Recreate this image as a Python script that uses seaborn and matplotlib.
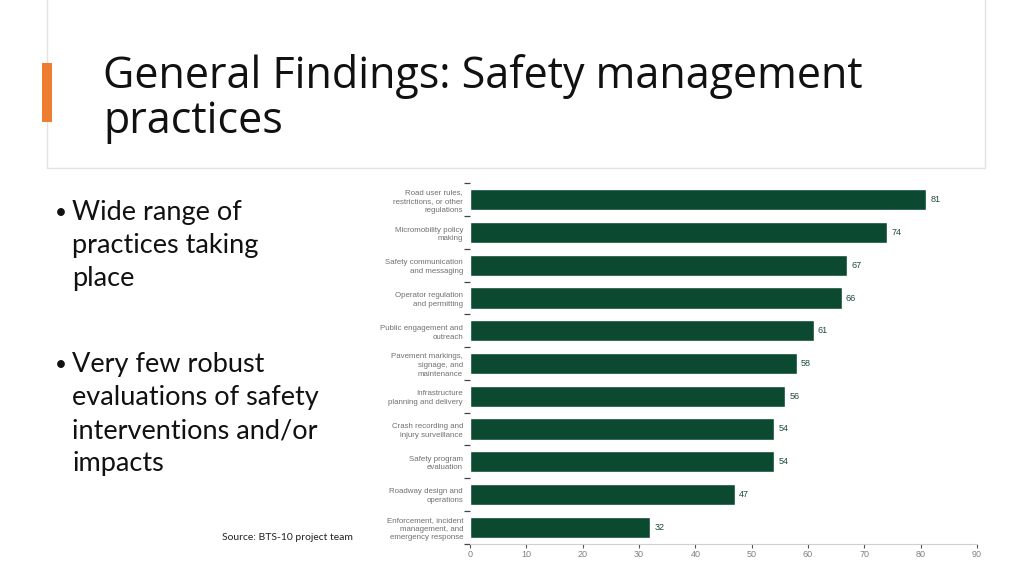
import matplotlib
matplotlib.use("Agg")
import matplotlib.pyplot as plt
import matplotlib.patches as mpatches
import seaborn as sns
import pandas as pd
import numpy as np

# data
practices = [
    "Road user rules,\nrestrictions, or other\nregulations",
    "Micromobility policy\nmaking",
    "Safety communication\nand messaging",
    "Operator regulation\nand permitting",
    "Public engagement and\noutreach",
    "Pavement markings,\nsignage, and\nmaintenance",
    "Infrastructure\nplanning and delivery",
    "Crash recording and\ninjury surveillance",
    "Safety program\nevaluation",
    "Roadway design and\noperations",
    "Enforcement, incident\nmanagement, and\nemergency response",
]
counts = [81, 74, 67, 66, 61, 58, 56, 54, 54, 47, 32]
x_ticks = [0, 10, 20, 30, 40, 50, 60, 70, 80, 90]

bullet_1 = "Wide range of\npractices taking\nplace"
bullet_2 = "Very few robust\nevaluations of safety\ninterventions and/or\nimpacts"
title = "General Findings: Safety management\npractices"
source = "Source: BTS-10 project team"

GREEN = "#0b4a30"
ORANGE = "#ed7d31"

sns.set_theme(style="white")
plt.rcParams['font.family'] = ['Liberation Sans Narrow', 'Liberation Sans', 'DejaVu Sans']

df = pd.DataFrame({"practice": practices, "count": counts})

fig = plt.figure(figsize=(10.24, 5.75), dpi=100)
W, H = 1024, 575

# title box with faint border
box = mpatches.Rectangle((47 / W, 1 - 168 / H), (985 - 47) / W, 168 / H + 0.01,
                         transform=fig.transFigure, facecolor="white",
                         edgecolor="#e2e2e2", linewidth=1.0)
fig.patches.append(box)
accent = mpatches.Rectangle((42 / W, 1 - 122 / H), 10 / W, 59 / H,
                            transform=fig.transFigure, facecolor=ORANGE,
                            edgecolor="none")
fig.patches.append(accent)

fig.text(103 / W, 1 - 133 / H, title, fontsize=31, family=['Open Sans', 'DejaVu Sans'],
         color="#111111", va="baseline", ha="left", linespacing=1.02)

# bullets
bfont = ['Lato', 'DejaVu Sans']
for text, ytop in [(bullet_1, 200), (bullet_2, 352)]:
    fig.text(55 / W, 1 - (ytop + 3) / H, "\u2022", fontsize=15, family=bfont,
             va="top", ha="left", color="#111111")
    fig.text(72 / W, 1 - ytop / H, text, fontsize=19.5, family=bfont,
             va="top", ha="left", color="#111111", linespacing=1.4)

fig.text(222 / W, 1 - 540 / H, source, fontsize=7.5, family=bfont,
         color="#222222", ha="left", va="baseline")

# chart
ax = fig.add_axes([470 / W, 1 - 543.5 / H, (977 - 470) / W, (543.5 - 183.5) / H])
sns.barplot(data=df, x="count", y="practice", color=GREEN, width=0.65,
            saturation=1, ax=ax, orient="h")
ax.set_xlim(0, 90)
ax.set_ylim(len(practices) - 0.5, -0.5)
ax.set_xticks(x_ticks)
ax.set_xlabel("")
ax.set_ylabel("")

for c in ax.containers:
    ax.bar_label(c, padding=3, fontsize=6.5, color="#1f4a3a")

for s in ["top", "right", "left"]:
    ax.spines[s].set_visible(False)
ax.spines["bottom"].set_color("#d0d0d0")
ax.spines["bottom"].set_linewidth(0.8)

ax.tick_params(axis="x", bottom=True, length=3, width=0.8, color="#555555",
               labelsize=6.5, labelcolor="#808080", pad=1.5)
ax.tick_params(axis="y", which="major", left=False, length=0, labelsize=5.7,
               labelcolor="#707070", pad=5)
ax.set_yticks(np.arange(-0.5, len(practices), 1.0), minor=True)
ax.tick_params(axis="y", which="minor", left=True, length=4, width=0.9,
               color="#444444")
for lab in ax.get_yticklabels():
    lab.set_linespacing(1.35)

fig.savefig("out.png", dpi=100, facecolor="white")
